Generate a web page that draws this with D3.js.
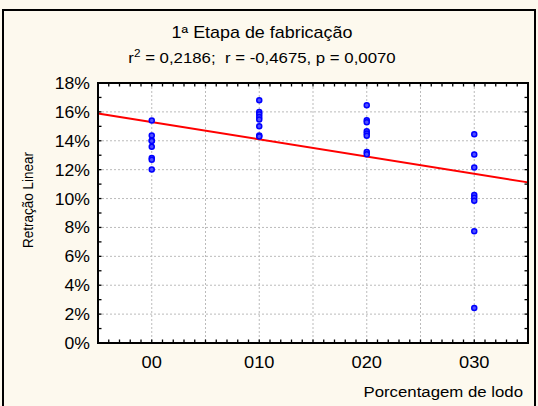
<!DOCTYPE html>
<html><head><meta charset="utf-8">
<script src="https://cdn.jsdelivr.net/npm/d3@7"></script>
<style>
html,body{margin:0;padding:0;background:#fdf9ee;}
svg{display:block;font-family:Arial,"Liberation Sans",sans-serif;}
text{white-space:pre;}
</style></head><body>
<svg id="c" width="538" height="406"></svg>
<script>
// ---- data ----
const categories = [0, 10, 20, 30];
const categoryLabels = ["00", "010", "020", "030"];
const values00 = [15.40, 14.37, 14.02, 13.98, 13.58, 12.80, 12.68, 12.02];
const values10 = [16.81, 16.00, 15.84, 15.65, 15.47, 15.01, 14.37, 14.30];
const values20 = [16.46, 15.42, 15.29, 14.66, 14.50, 14.34, 13.23, 13.07];
const values30 = [14.46, 13.05, 12.15, 10.24, 10.06, 9.85, 7.74, 2.42];
const fitX = [-5, 35];
const fitY = [15.89, 11.12];
const yTicks = [0, 2, 4, 6, 8, 10, 12, 14, 16, 18];
const titleLine1 = "1ª Etapa de fabricação";
const titleLine2Rest = " = 0,2186;  r = -0,4675, p = 0,0070";
const xTitle = "Porcentagem de lodo";
const yTitle = "Retração Linear";

const W = 538, H = 406;
const m = {l: 98, t: 83, r: 10, b: 63};
const svg = d3.select("#c");
const SX = 1.12; // horizontal stretch of text

function addText(px, py, str, size, anchor, sx, rot) {
  const g = svg.append("g").attr("transform",
    rot ? `translate(${px},${py}) rotate(${rot}) scale(1,${sx})` : `translate(${px},${py}) scale(${sx},1)`);
  return g.append("text").attr("x", 0).attr("y", 0).attr("text-anchor", anchor)
    .attr("font-size", size).attr("fill", "#000").text(str);
}

// outer frame
svg.append("rect").attr("x", 3).attr("y", 10).attr("width", 532).attr("height", 402)
  .attr("fill", "#fdf9ee").attr("stroke", "#000").attr("stroke-width", 2);

const x = d3.scaleLinear().domain([-5, 35]).range([m.l, W - m.r]);
const y = d3.scaleLinear().domain([0, 18]).range([H - m.b, m.t]);

svg.append("rect").attr("x", m.l).attr("y", m.t).attr("width", W - m.r - m.l).attr("height", H - m.b - m.t)
  .attr("fill", "#fff");

// grid
const grid = svg.append("g").attr("stroke", "#bbb").attr("stroke-dasharray", "2,2").attr("stroke-width", 1);
d3.range(0, 35, 5).forEach(v => grid.append("line").attr("x1", x(v)).attr("x2", x(v)).attr("y1", m.t).attr("y2", H - m.b));
yTicks.slice(1, -1).forEach(v => grid.append("line").attr("x1", m.l).attr("x2", W - m.r).attr("y1", y(v)).attr("y2", y(v)));

// inward ticks
const xMinor = d3.range(-4, 35, 1);
const yMinor = d3.range(1, 18, 1);
const tk = svg.append("g").attr("stroke", "#000").attr("stroke-width", 1.3);
xMinor.forEach(v => {
  tk.append("line").attr("x1", x(v)).attr("x2", x(v)).attr("y1", H - m.b).attr("y2", H - m.b - 3.5);
  tk.append("line").attr("x1", x(v)).attr("x2", x(v)).attr("y1", m.t).attr("y2", m.t + 3.5);
});
yMinor.forEach(v => {
  tk.append("line").attr("x1", m.l).attr("x2", m.l + 3.5).attr("y1", y(v)).attr("y2", y(v));
  tk.append("line").attr("x1", W - m.r).attr("x2", W - m.r - 3.5).attr("y1", y(v)).attr("y2", y(v));
});

// regression line
svg.append("line").attr("x1", x(fitX[0])).attr("y1", y(fitY[0])).attr("x2", x(fitX[1])).attr("y2", y(fitY[1]))
  .attr("stroke", "#ff0000").attr("stroke-width", 2);

// points
const series = [values00, values10, values20, values30];
const pts = [];
series.forEach((arr, i) => arr.forEach(v => pts.push([categories[i], v])));
svg.append("g").selectAll("circle").data(pts).join("circle")
  .attr("cx", d => x(d[0])).attr("cy", d => y(d[1])).attr("r", 2.5)
  .attr("fill", "#5050ff").attr("stroke", "#0000ff").attr("stroke-width", 1.5);

// plot border
svg.append("rect").attr("x", m.l).attr("y", m.t).attr("width", W - m.r - m.l).attr("height", H - m.b - m.t)
  .attr("fill", "none").attr("stroke", "#000").attr("stroke-width", 2);

// tick labels
yTicks.forEach(v => addText(90, y(v) + 6, v + "%", 16.3, "end", 1.08));
categories.forEach((c, i) => addText(x(c), 368, categoryLabels[i], 16.3, "middle", 1.12));

// titles
addText(262, 38, titleLine1, 16, "middle", SX);
const t2 = addText(262, 63, "", 15, "middle", SX);
t2.append("tspan").text("r");
t2.append("tspan").attr("dy", -6).attr("font-size", 10.5).text("2");
t2.append("tspan").attr("dy", 6).text(titleLine2Rest);

addText(523, 397, xTitle, 15, "end", 1.12);
addText(33, 200, yTitle, 13.5, "middle", 1.12, -90);
</script>
</body></html>
